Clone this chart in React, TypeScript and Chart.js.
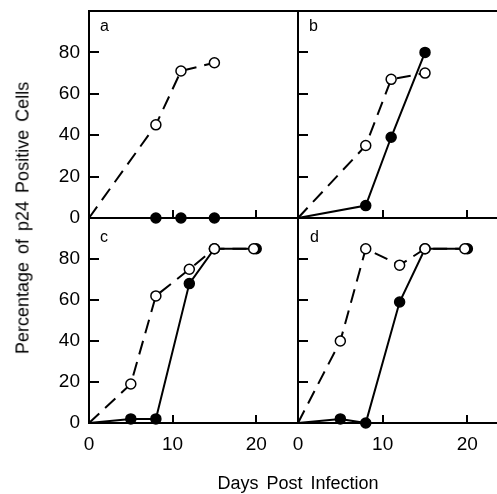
import React, { useEffect, useRef } from 'react';
import { Chart, registerables } from 'chart.js';

Chart.register(...registerables);

// ---- data (days post infection / percentage of p24 positive cells) ----
const daysAOpen = [0, 8, 11, 15];
const pctAOpen = [0, 45, 71, 75];
const daysAClosed = [0, 8, 11, 15];
const pctAClosed = [0, 0, 0, 0];

const daysBOpen = [0, 8, 11, 15];
const pctBOpen = [0, 35, 67, 70];
const daysBClosed = [0, 8, 11, 15];
const pctBClosed = [0, 6, 39, 80];

const daysCOpen = [0, 5, 8, 12, 15, 19.7];
const pctCOpen = [0, 19, 62, 75, 85, 85];
const daysCClosed = [0, 5, 8, 12, 15, 20];
const pctCClosed = [0, 2, 2, 68, 85, 85];

const daysDOpen = [0, 5, 8, 12, 15, 19.7];
const pctDOpen = [0, 40, 85, 77, 85, 85];
const daysDClosed = [0, 5, 8, 12, 15, 20];
const pctDClosed = [0, 2, 0, 59, 85, 85];

const yTickLabels = [0, 20, 40, 60, 80];
const xTickLabels = [0, 10, 20];
const panelLetters = ['a', 'b', 'c', 'd'];

const W = 497;
const H = 494;
const FONT = '"Liberation Sans", Arial, Helvetica, sans-serif';

type Panel = {
  od: number[]; op: number[]; cd: number[]; cp: number[];
  left: number; top: number; right: number; bottom: number;
  xMax: number; showY: boolean; showX: boolean; topBorder: boolean;
};

const panels: Panel[] = [
  { od: daysAOpen, op: pctAOpen, cd: daysAClosed, cp: pctAClosed, left: 89, top: 11, right: 298, bottom: 218, xMax: 25, showY: true, showX: false, topBorder: true },
  { od: daysBOpen, op: pctBOpen, cd: daysBClosed, cp: pctBClosed, left: 298, top: 11, right: 497, bottom: 218, xMax: 23.5, showY: false, showX: false, topBorder: true },
  { od: daysCOpen, op: pctCOpen, cd: daysCClosed, cp: pctCClosed, left: 89, top: 218, right: 298, bottom: 423, xMax: 25, showY: true, showX: true, topBorder: false },
  { od: daysDOpen, op: pctDOpen, cd: daysDClosed, cp: pctDClosed, left: 298, top: 218, right: 497, bottom: 423, xMax: 23.5, showY: false, showX: true, topBorder: false },
];

function toPts(d: number[], p: number[]) {
  return d.map((x, i) => ({ x, y: p[i] }));
}

function zeroPad(s: any) {
  s.paddingTop = 0; s.paddingBottom = 0; s.paddingLeft = 0; s.paddingRight = 0;
}

function makeChart(canvas: HTMLCanvasElement, p: Panel) {
  const yW = p.showY ? 40 : 0;
  const xH = p.showX ? 30 : 0;
  const scales: any = {
    x: {
      type: 'linear', position: 'bottom', min: 0, max: p.xMax,
      afterFit: (s: any) => { s.height = xH; zeroPad(s); },
      ticks: {
        stepSize: 10, includeBounds: false, display: p.showX, autoSkip: false, maxRotation: 0,
        padding: 18, color: '#000', font: { family: FONT, size: 19 },
        callback: (v: number) => (xTickLabels.includes(v) ? String(v) : null),
      },
      grid: { display: true, drawOnChartArea: false, drawTicks: true, tickLength: -8, color: '#000', lineWidth: 2 },
      border: { display: true, color: '#000', width: 2 },
    },
    y: {
      type: 'linear', position: 'left', min: 0, max: 100,
      afterFit: (s: any) => { s.width = yW; zeroPad(s); },
      ticks: {
        stepSize: 20, display: p.showY, padding: 19, color: '#000', font: { family: FONT, size: 19 },
        callback: (v: number) => (yTickLabels.includes(v) ? String(v) : null),
      },
      grid: { display: true, drawOnChartArea: false, drawTicks: true, tickLength: -10, color: '#000', lineWidth: 2 },
      border: { display: true, color: '#000', width: 2 },
    },
  };
  if (p.topBorder) {
    scales.xTop = {
      type: 'linear', position: 'top', min: 0, max: p.xMax,
      afterFit: (s: any) => { s.height = 0; zeroPad(s); },
      ticks: { display: false },
      grid: { display: false },
      border: { display: true, color: '#000', width: 2 },
    };
  }
  const radii = (d: number[]) => d.map((_, i) => (i === 0 ? 0 : 5));
  return new Chart(canvas, {
    type: 'line',
    data: {
      datasets: [
        {
          data: toPts(p.od, p.op),
          borderColor: '#000', borderWidth: 2, borderDash: [14, 8],
          pointRadius: radii(p.od), pointBackgroundColor: '#fff', pointBorderColor: '#000', pointBorderWidth: 1.5,
          tension: 0, fill: false, clip: false,
        } as any,
        {
          data: toPts(p.cd, p.cp),
          borderColor: '#000', borderWidth: 2,
          pointRadius: radii(p.cd), pointBackgroundColor: '#000', pointBorderColor: '#000', pointBorderWidth: 1.5,
          tension: 0, fill: false, clip: false,
        } as any,
      ],
    },
    options: {
      responsive: false,
      animation: false,
      devicePixelRatio: 1,
      events: [],
      layout: {
        autoPadding: false,
        padding: { left: p.left - yW, right: W - p.right, top: p.top, bottom: H - p.bottom - xH },
      },
      plugins: { legend: { display: false }, tooltip: { enabled: false }, title: { display: false } },
      scales,
    } as any,
  });
}

function PanelCanvas({ p }: { p: Panel }) {
  const ref = useRef<HTMLCanvasElement>(null);
  useEffect(() => {
    if (!ref.current) return;
    const c = makeChart(ref.current, p);
    return () => c.destroy();
  }, [p]);
  return (
    <canvas ref={ref} width={W} height={H} style={{ position: 'absolute', left: 0, top: 0, width: W, height: H }} />
  );
}

export default function App() {
  const letterStyle = (left: number, top: number): React.CSSProperties => ({
    position: 'absolute', left, top, fontFamily: FONT, fontSize: 16, lineHeight: '16px', color: '#000',
  });
  return (
    <div style={{ position: 'fixed', left: 0, top: 0, width: W, height: H, background: '#fff', overflow: 'hidden' }}>
      {panels.map((p, i) => <PanelCanvas key={i} p={p} />)}
      <div style={letterStyle(100, 18)}>{panelLetters[0]}</div>
      <div style={letterStyle(309, 18)}>{panelLetters[1]}</div>
      <div style={letterStyle(100, 229)}>{panelLetters[2]}</div>
      <div style={letterStyle(310, 229)}>{panelLetters[3]}</div>
      <div style={{
        position: 'absolute', left: 23, top: 218, transform: 'translate(-50%, -50%) rotate(-90deg)',
        whiteSpace: 'nowrap', fontFamily: FONT, fontSize: 18, wordSpacing: 3, color: '#000',
      }}>Percentage of p24 Positive Cells</div>
      <div style={{
        position: 'absolute', left: 298, top: 483, transform: 'translate(-50%, -50%)',
        whiteSpace: 'nowrap', fontFamily: FONT, fontSize: 18, wordSpacing: 3, color: '#000',
      }}>Days Post Infection</div>
    </div>
  );
}
